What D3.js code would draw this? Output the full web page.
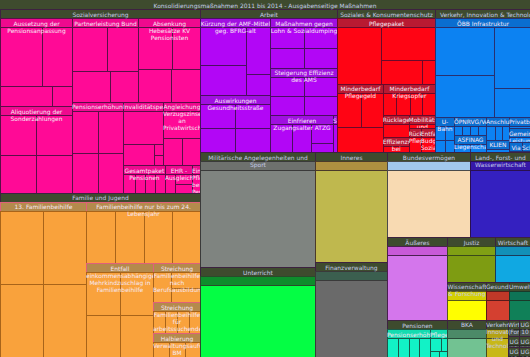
<!DOCTYPE html>
<html><head><meta charset="utf-8">
<script src="https://cdn.jsdelivr.net/npm/d3@7"></script>
<style>
html,body{margin:0;padding:0;background:#3e4b2e;overflow:hidden}
#chart{position:relative;width:530px;height:357px;background:#3e4b2e;font-family:"DejaVu Sans",Verdana,sans-serif;font-size:5.95px;overflow:hidden}
.box{position:absolute;box-sizing:border-box;border-style:solid;border-width:1px}
.lab{position:absolute;box-sizing:border-box;overflow:hidden;text-align:center;line-height:7px;padding:1.5px 0 0 0;white-space:normal}
</style></head><body><div id="chart"></div>
<script>
const title = "Konsolidierungsmaßnahmen 2011 bis 2014 - Ausgabenseitige Maßnahmen";
const years = ["2011", "2012", "2013", "2014"];

const groupNames = [
  "Sozialversicherung", "Familie und Jugend", "Arbeit", "Soziales & Konsumentenschutz",
  "Verkehr, Innovation & Technologie", "Militärische Angelegenheiten und Sport", "Unterricht",
  "Inneres", "Finanzverwaltung", "Bundesvermögen", "Land-, Forst- und Wasserwirtschaft",
  "Äußeres", "Pensionen", "Justiz", "Wirtschaft", "Wissenschaft & Forschung", "BKA",
  "Gesundheit", "Umwelt", "Verkehr, Innovation und Technologie", "Wirtschaft (Forschung)",
  "UG 10", "UG 12", "UG 13", "UG 14", "UG 16"
];

const measureNames = [
  ["Aussetzung der Pensionsanpassung", "Aliquotierung der Sonderzahlungen", "Partnerleistung Bund",
   "Absenkung Hebesätze KV Pensionisten", "Pensionserhöhung", "Invaliditätspension",
   "Angleichung Verzugszinsen an Privatwirtschaft", "Gesamtpaket Pensionen", "EHR - Ausgleichszulage",
   "Einfrieren Pflegegeld bei Pensionisten"],
  ["13. Familienbeihilfe", "Familienbeihilfe nur bis zum 24. Lebensjahr",
   "Entfall einkommensabhängiger Mehrkindzuschlag in Familienbeihilfe",
   "Streichung Familienbeihilfe nach Berufsausbildung",
   "Streichung Familienbeihilfe für arbeitssuchende Jugendliche", "Halbierung Verwaltungsaufwand BM"],
  ["Kürzung der AMF-Mittel geg. BFRG-alt", "Auswirkungen Gesundheitsstraße",
   "Maßnahmen gegen Lohn & Sozialdumping", "Steigerung Effizienz des AMS",
   "Einfrieren Zugangsalter ATZG", "Sonstige"],
  ["Pflegepaket", "Minderbedarf Pflegegeld", "Minderbedarf Kriegsopfer", "Rücklagenauflösung",
   "Effizienzsteigerung bei Bundessozialamt", "Mobilitätsförderung und Behinderte",
   "Rückführung Pflegefonds", "Entfall Budgetmittel Sozialfonds"],
  ["ÖBB Infrastruktur", "U-Bahn", "ÖPNRVG/Verkehrsverbünde", "ASFINAG Liegenschaften",
   "Anschlussbahnen", "KLIEN", "Privatbahnen", "Gemeinwirtschaftliche Leistungen", "Via Donau", "Schig"],
  [""], [""], [""], [""], [""], [""], [""],
  ["Pensionserhöhung", "Pflegegeld"],
  [""], [""], [""], [""], [""], [""], [""], [""],
  [""], [""], [""], [""], [""]
];

const leafValues = [
  [[2902, 2071, 1220, 469], [1682, 1661, 1630, 1613], [1808, 1598, 1377, 1045], [1682, 1409, 1283, 1102],
   [1241, 1230, 1209, 1200], [1619, 799, 126, 105], [1241, 620, 590], [347, 296, 296, 296],
   [294, 263, 238], [236]],
  [[3534, 3523, 3523, 3523], [1883, 1841, 1820, 1814], [1682, 1672, 1661, 1649], [741, 635, 564],
   [402, 386, 381, 372], [413, 391, 389]],
  [[2092, 1654, 1377, 630], [1089, 1067, 1057, 1046], [918, 896, 886, 875], [854, 843, 838, 826],
   [869, 750, 589, 280], [158]],
  [[3094, 2199, 1213, 385], [1001, 918, 1413], [447, 437, 421, 412], [609], [416], [384], [307], [358]],
  [[3324, 2909, 2578, 1225], [192, 181, 171, 165], [160, 155, 152, 148], [299, 282], [213, 181, 170],
   [295], [247], [314], [139], [85]],
  [[13225]], [[10350]], [[7920]], [[6840]], [[7055]], [[5100]], [[4980]],
  [[423, 396, 383, 388], [264, 159, 106, 100]],
  [[2160]], [[1575]], [[1482]], [[1443]], [[874]], [[798]], [[814]], [[180]],
  [[180]], [[115]], [[115]], [[115]], [[110]]
];

// styles: measure header colour, leaf colour, line colour per group
const headColors = ["#ee0a8e","#b48a4c","#a010e0","#b81a32","#0a6ed0","#6e716e","#0e8c2c","#ae9040","#3b5f4f",
  "#a2c8ee","#3618a8","#c85ad8","#14dcb0","#80a014","#1290b8","#d4d000","#4c8a68","#c03828","#0e7456",
  "#b4a214","#4a524a","#4a524a","#4a524a","#4a524a","#4a524a","#4a524a"];
const leafColors = ["#ff0a96","#f9a23c","#b206f6","#ff0414","#0c82f2","#7f8480","#04fe44","#bfb84e","#6a6a6a",
  "#f8dab2","#3420c0","#d476ec","#12f2c6","#7e9c12","#10a8e2","#fffe00","#72c292","#d44030","#108058",
  "#c8b818","#5a625a","#5a625a","#5a625a","#5a625a","#5a625a","#5a625a"];
const lineColors = ["#5a0f48","#a8641a","#4a0f60","#6a0a2a","#283070","#3a3a3a","#2a4a2a","#4a3a2a","#3a3a3a",
  "#4a4a4a","#2a1050","#4a2050","#1a5a4a","#3a4a1a","#1a3a5a","#5a5a1a","#2a4a3a","#5a1a1a","#1a3a2a",
  "#4a4a1a","#2a2a2a","#2a2a2a","#2a2a2a","#2a2a2a","#2a2a2a","#2a2a2a"];
const measureLine = ["#5a0f48","#e0607a","#4a0f60","#6a0a2a","#283070"];
const noWrapGroups = [4];

const W = 530, H = 357;
const data = {
  name: title,
  children: groupNames.map((g, i) => ({
    name: g, gi: i,
    children: measureNames[i].map((m, j) => ({
      name: m, gi: i,
      children: leafValues[i][j].map((v, k) => ({ name: years[k], value: v, gi: i }))
    }))
  }))
};

const root = d3.hierarchy(data).sum(d => d.value || 0);
d3.treemap().tile(d3.treemapSquarify.ratio(1)).size([W, H])
  .paddingTop(d => d.depth < 3 ? 9 : 0)(root);

const items = [];
(function walk(n) {
  items.push({ n, kind: "box" });
  (n.children || []).forEach(walk);
  if (n.depth < 3) items.push({ n, kind: "lab" });
})(root);

const chart = d3.select("#chart");
chart.selectAll("div.item").data(items).join("div")
  .attr("class", d => "item " + d.kind)
  .style("left", d => d.n.x0 + "px")
  .style("top", d => d.n.y0 + "px")
  .style("width", d => Math.max(0, d.n.x1 - d.n.x0 + (d.n.depth > 0 ? 1 : 0)) + "px")
  .style("height", d => Math.max(0, d.n.y1 - d.n.y0 + (d.n.depth > 0 ? 1 : 0)) + "px")
  .each(function (d) {
    const s = d3.select(this), n = d.n, gi = n.data.gi;
    if (d.kind === "box") {
      if (n.depth === 0) { s.style("background", "#3e4b2e").style("border-width", "0px"); }
      else if (n.depth === 1) { s.style("background", "#3e4b2e").style("border-color", "#3d2240"); }
      else if (n.depth === 2) { s.style("background", headColors[gi]).style("border-color", measureLine[gi] || lineColors[gi]); }
      else { s.style("background", leafColors[gi]).style("border-color", lineColors[gi]); }
    } else {
      s.text(n.data.name)
       .style("color", n.depth < 2 ? "#c4cbe8" : "#f6e8f4")
       .style("white-space", n.depth === 1 && noWrapGroups.includes(gi) ? "nowrap" : null)
       .style("text-align", n.depth === 1 && noWrapGroups.includes(gi) ? "left" : null)
       .style("padding-left", n.depth === 1 && noWrapGroups.includes(gi) ? "5px" : null);
    }
  });
</script>
</body></html>
